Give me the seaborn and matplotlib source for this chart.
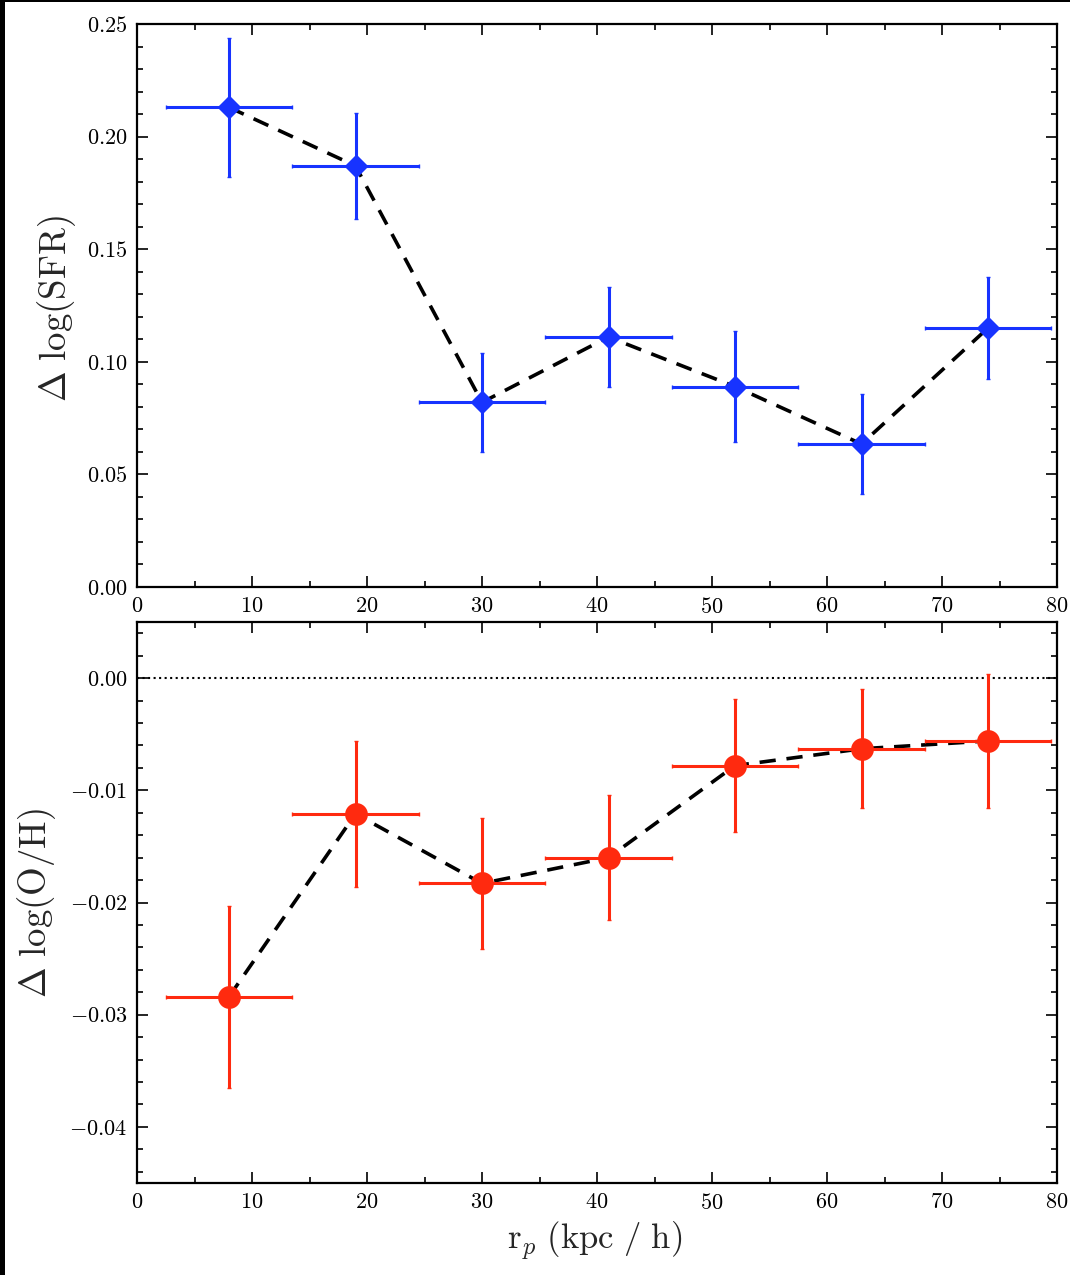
import numpy as np
import pandas as pd
import matplotlib
matplotlib.use("Agg")
import matplotlib.pyplot as plt
import seaborn as sns
from matplotlib.ticker import MultipleLocator, FuncFormatter
from matplotlib.patches import Rectangle

# ---- data ----
rp = [8, 19, 30, 41, 52, 63, 74]
rp_err = [5.5, 5.5, 5.5, 5.5, 5.5, 5.5, 5.5]
dsfr = [0.213, 0.187, 0.082, 0.111, 0.089, 0.0635, 0.115]
dsfr_err = [0.031, 0.0235, 0.022, 0.022, 0.0245, 0.022, 0.0225]
doh = [-0.0284, -0.0121, -0.0183, -0.0160, -0.0078, -0.0063, -0.0056]
doh_err = [0.0081, 0.0065, 0.0058, 0.0056, 0.0059, 0.0053, 0.0060]
xticks = [0, 10, 20, 30, 40, 50, 60, 70, 80]

df_top = pd.DataFrame({"rp": rp, "val": dsfr})
df_bot = pd.DataFrame({"rp": rp, "val": doh})

sns.set_style("ticks")
plt.rcParams["font.family"] = ["cmr10", "DejaVu Serif"]
plt.rcParams["mathtext.fontset"] = "cm"
plt.rcParams["axes.formatter.use_mathtext"] = True

W, H = 1070, 1275
fig = plt.figure(figsize=(W / 100, H / 100), dpi=100)
fig.patch.set_facecolor("white")

ax1 = fig.add_axes([137 / W, 1 - 587 / H, 920 / W, 563 / H])
ax2 = fig.add_axes([137 / W, 1 - 1183 / H, 920 / W, 561 / H])

blue = "#1733ff"
red = "#ff2a0f"

# top panel
sns.lineplot(data=df_top, x="rp", y="val", ax=ax1, color="black",
             linestyle="--", linewidth=2.6, zorder=2)
ax1.lines[-1].set_dashes((4.5, 3))
ax1.errorbar(rp, dsfr, xerr=rp_err, yerr=dsfr_err, fmt="none", ecolor=blue,
             elinewidth=2.2, capsize=1.5, capthick=1, zorder=3)
sns.scatterplot(data=df_top, x="rp", y="val", ax=ax1, marker="D", s=150,
                color=blue, edgecolor=blue, linewidth=0, zorder=4)

# bottom panel
ax2.axhline(0.0, color="black", linestyle=":", linewidth=1.5, zorder=1)
sns.lineplot(data=df_bot, x="rp", y="val", ax=ax2, color="black",
             linestyle="--", linewidth=2.6, zorder=2)
ax2.lines[-1].set_dashes((4.5, 3))
ax2.errorbar(rp, doh, xerr=rp_err, yerr=doh_err, fmt="none", ecolor=red,
             elinewidth=2.2, capsize=1.5, capthick=1, zorder=3)
sns.scatterplot(data=df_bot, x="rp", y="val", ax=ax2, marker="o", s=270,
                color=red, edgecolor=red, linewidth=0, zorder=4)

fmt = FuncFormatter(lambda v, p: f"${v:.2f}$" if abs(v) > 1e-9 else "$0.00$")
for ax in (ax1, ax2):
    ax.set_xlim(0, 80)
    ax.set_xticks(xticks)
    ax.set_xticklabels([f"${t}$" for t in xticks])
    ax.xaxis.set_minor_locator(MultipleLocator(5))
    ax.tick_params(which="both", direction="in", top=True, right=True,
                   labelsize=16, width=1.2, colors="black")
    ax.tick_params(which="major", length=8, pad=7)
    ax.tick_params(which="minor", length=4)
    for s in ax.spines.values():
        s.set_linewidth(1.6)
        s.set_color("black")
    ax.set_xlabel("")
    ax.yaxis.set_major_formatter(fmt)

ax1.set_ylim(0, 0.25)
ax1.yaxis.set_major_locator(MultipleLocator(0.05))
ax1.yaxis.set_minor_locator(MultipleLocator(0.01))
ax1.set_ylabel(r"$\Delta\ \log(\rm SFR)$", fontsize=26.5)
ax1.yaxis.set_label_coords(-0.064, 0.495)

ax2.set_ylim(-0.045, 0.005)
ax2.yaxis.set_major_locator(MultipleLocator(0.01))
ax2.yaxis.set_minor_locator(MultipleLocator(0.002))
ax2.set_ylabel(r"$\Delta\ \rm log(O/H)$", fontsize=26.5)
ax2.yaxis.set_label_coords(-0.086, 0.499)
ax2.set_xlabel(r"$\rm r_{\it p}\ (kpc\ /\ h)$", fontsize=25)
ax2.xaxis.set_label_coords(0.498, -0.066)

# black border strips of the original image
fig.patches.append(Rectangle((0, 0), 5 / W, 1, transform=fig.transFigure,
                             facecolor="black", edgecolor="none", zorder=10))
fig.patches.append(Rectangle((0, 1 - 2 / H), 1, 2 / H, transform=fig.transFigure,
                             facecolor="black", edgecolor="none", zorder=10))

fig.savefig("out.png", dpi=100)
